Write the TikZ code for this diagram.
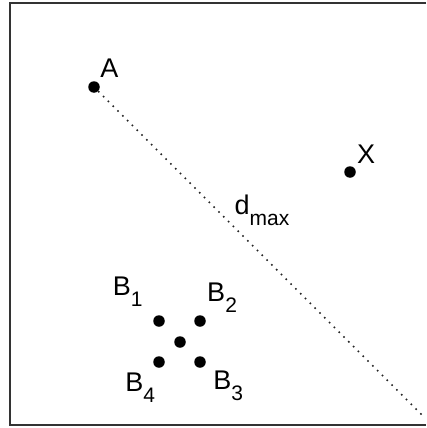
\documentclass[tikz,border=0pt]{standalone}
\usepackage{fontspec}
\setmainfont{Liberation Sans}
\newcommand{\low}[1]{\raisebox{-11pt}{\fontsize{21}{21}\selectfont #1}}

\begin{document}
\begin{tikzpicture}[x=1pt, y=-1pt,
		frm/.style = {draw=black!80, line width=2pt},
		dots/.style = {draw=black!85, line width=1.6pt,
			dash pattern=on 1.6pt off 5.2pt},
		lbl/.style = {font=\fontsize{27}{27}\selectfont, inner sep=0pt},
		vrtx/.style args = {#1/#2/#3}{%
			circle, fill=black, inner sep=0pt,
			minimum size=11.5pt, label={[lbl, label distance=#3]#1:#2}}
		]
		\useasboundingbox (0,0) rectangle (426,428);
		\draw[frm] (426,3) -- (10,3) -- (10,425) -- (426,425);
		\node (a) [vrtx=55/A/5pt] at (94,87) {};
		\node (x) [vrtx=50/X/5pt] at (350,172) {};
		\node (b1) [vrtx=138/B\low{1}/16pt] at (159,321) {};
		\node (b2) [vrtx=50/B\low{2}/5pt] at (200,321) {};
		\node (b0) [vrtx=0/{}/0pt] at (180,342) {};
		\node (b3) [vrtx=-35/B\low{3}/10pt] at (200,362) {};
		\node (b4) [vrtx=250/B\low{4}/5pt] at (159,362) {};
		\coordinate (e) at (424,417);
		\draw[dots] (a) -- (e);
		\node (d) [lbl] at (262,210) {d\low{max}};
	\end{tikzpicture}
\end{document}
